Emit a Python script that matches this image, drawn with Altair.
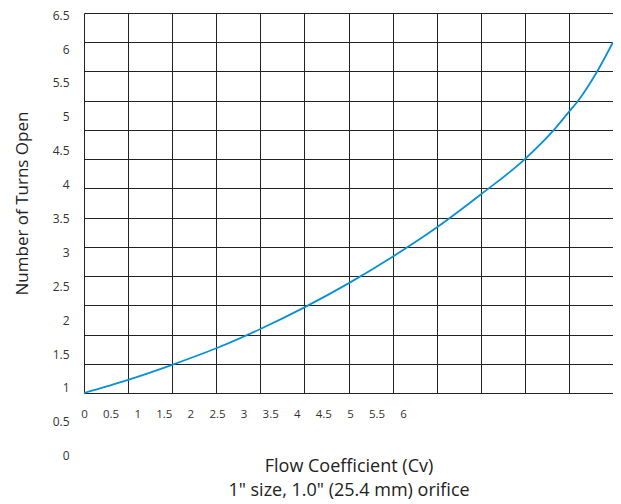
import altair as alt
import pandas as pd

# Curve, in grid-cell units (12 columns x 13 rows)
curve_col = [0, 1, 2, 3, 4, 5, 6, 7, 8, 9, 10, 10.66, 11, 11.21, 11.64, 12]
curve_row = [0, 0.45, 0.965, 1.53, 2.19, 2.93, 3.75, 4.66, 5.66, 6.79, 8.0, 9.0, 9.62, 10.0, 11.0, 12.0]

# Grid lines (cell boundaries)
grid_cols = list(range(0, 13))
grid_rows = list(range(0, 14))

# Tick labels as printed on the original figure (not aligned with the grid)
x_labels = [0, 0.5, 1, 1.5, 2, 2.5, 3, 3.5, 4, 4.5, 5, 5.5, 6]
y_labels = [0, 0.5, 1, 1.5, 2, 2.5, 3, 3.5, 4, 4.5, 5, 5.5, 6, 6.5]
x_label_domain = [0, 9.946]
# y labels run past the bottom of the grid: pixel span of 0 .. 6.5 within the plot
y_label_domain = [0, 6.5]
y_label_range = [442.7, 2.2]

FONT = "Open Sans"
W, H = 529, 380

curve_df = pd.DataFrame({"col": curve_col, "row": curve_row})

grid_axis = dict(grid=True, labels=False, ticks=False, domain=False,
                 gridColor="#222", gridOpacity=1, gridWidth=1, minExtent=0)

curve = alt.Chart(curve_df).mark_line(
    color="#0a90d4", strokeWidth=1.8, interpolate="monotone"
).encode(
    x=alt.X("col:Q",
            scale=alt.Scale(domain=[0, 12], nice=False, zero=False),
            axis=alt.Axis(orient="bottom", values=grid_cols, title=None, **grid_axis)),
    y=alt.Y("row:Q",
            scale=alt.Scale(domain=[0, 13], nice=False, zero=False),
            axis=alt.Axis(orient="left", values=grid_rows,
                          title="Number of Turns Open",
                          titleFont=FONT, titleFontSize=17, titleFontWeight="normal",
                          titleColor="#222", titlePadding=53, **grid_axis)),
)

label_df = pd.DataFrame({"cv": [x_labels[0]], "turns": [y_labels[2]]})

label_axes = alt.Chart(label_df).mark_point(opacity=0).encode(
    x=alt.X("cv:Q",
            scale=alt.Scale(domain=x_label_domain, nice=False, zero=False),
            axis=alt.Axis(orient="bottom", values=x_labels, format=".1~f", grid=False,
                          ticks=False, tickSize=0, domain=False, labelFlush=False,
                          labelPadding=15, labelFontSize=11.5, labelColor="#333",
                          labelFont=FONT,
                          title=["Flow Coefficient (Cv)", '1" size, 1.0" (25.4 mm) orifice'],
                          titleFont=FONT, titleFontSize=18, titleFontWeight="normal",
                          titleColor="#222", titlePadding=38, titleLineHeight=23.5)),
    y=alt.Y("turns:Q",
            scale=alt.Scale(domain=y_label_domain, range=y_label_range, nice=False, zero=False),
            axis=alt.Axis(orient="left", values=y_labels, format=".1~f", grid=False,
                          ticks=False, tickSize=0, domain=False, title=None,
                          labelFlush=False,
                          labelPadding=15, labelFontSize=12, labelColor="#333",
                          labelFont=FONT)),
)

chart = alt.layer(curve, label_axes).resolve_scale(
    x="independent", y="independent"
).properties(
    width=W, height=H,
    autosize=alt.AutoSizeParams(type="none"),
    padding={"left": 76, "top": 5, "right": 0, "bottom": 107},
).configure_view(stroke=None).configure(background="white")

chart.save("out.html", embed_options={"renderer": "svg", "actions": False})
